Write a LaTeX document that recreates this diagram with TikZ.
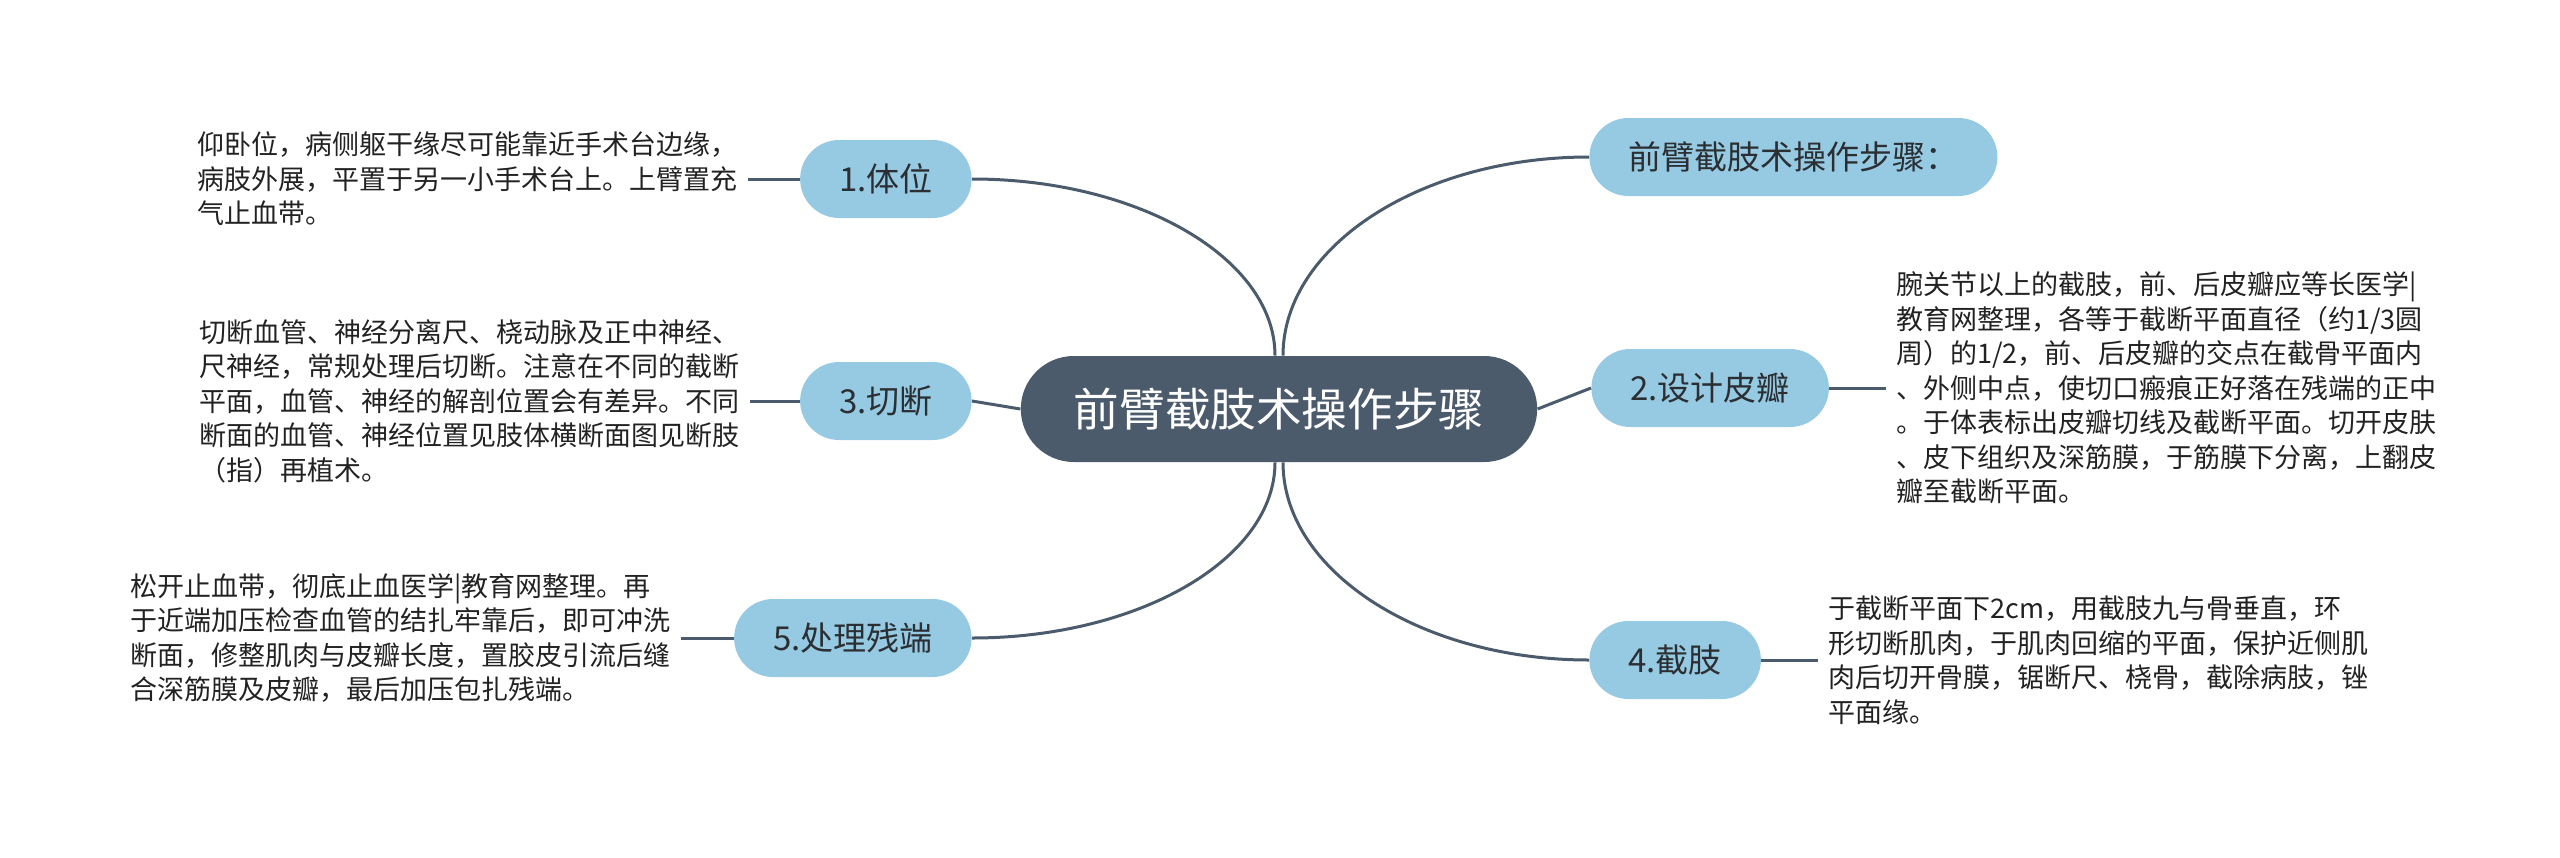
\documentclass[tikz,border=0pt]{standalone}
\usepackage{fontspec}
\setmainfont{Noto Sans CJK SC}
\usepackage{tikz}
\usetikzlibrary{positioning, calc}
\usepackage{xcolor}
\definecolor{rootSlate}{HTML}{4B5B6C}
\definecolor{stepBlue}{HTML}{96CAE2}
\definecolor{stepInk}{HTML}{2B2F33}
\definecolor{noteInk}{HTML}{222222}

\begin{document}
\begin{tikzpicture}[
    x=0.5pt, y=-0.5pt,
    root/.style={rectangle, fill=rootSlate, rounded corners=26.5pt, minimum height=53pt, inner xsep=26.5pt, text=white, font=\fontsize{22.8}{26}\selectfont},
    stepbox/.style={rectangle, fill=stepBlue, rounded corners=19.5pt, minimum height=39pt, inner xsep=19.5pt, text=stepInk, font=\fontsize{16.5}{19}\selectfont},
    note/.style={align=left, inner xsep=5pt, inner ysep=0pt, text=noteInk, font=\fontsize{13.5}{17.25}\selectfont},
    link/.style={draw=rootSlate, line width=1.5pt},
]
    \useasboundingbox (0,0) rectangle (2560,857);

    \node[root] (c) at (1279,409) {前臂截肢术操作步骤};

    \node[stepbox, anchor=west] (t0) at (1589,157) {前臂截肢术操作步骤：};
    \node[stepbox, anchor=west] (n2) at (1591,388) {2.设计皮瓣};
    \node[stepbox, anchor=west] (n4) at (1589,660) {4.截肢};
    \node[stepbox, anchor=east] (n1) at (972,179) {1.体位};
    \node[stepbox, anchor=east] (n3) at (972,401) {3.切断};
    \node[stepbox, anchor=east] (n5) at (972,638) {5.处理残端};

    \node[note, anchor=west] (d1) at (187,179) {仰卧位，病侧躯干缘尽可能靠近手术台边缘，\\病肢外展，平置于另一小手术台上。上臂置充\\气止血带。};
    \node[note, anchor=west] (d3) at (189,401) {切断血管、神经分离尺、桡动脉及正中神经、\\尺神经，常规处理后切断。注意在不同的截断\\平面，血管、神经的解剖位置会有差异。不同\\断面的血管、神经位置见肢体横断面图见断肢\\（指）再植术。};
    \node[note, anchor=west] (d5) at (120,638) {松开止血带，彻底止血医学|教育网整理。再\\于近端加压检查血管的结扎牢靠后，即可冲洗\\断面，修整肌肉与皮瓣长度，置胶皮引流后缝\\合深筋膜及皮瓣，最后加压包扎残端。};
    \node[note, anchor=west] (d2) at (1886,388) {腕关节以上的截肢，前、后皮瓣应等长医学|\\教育网整理，各等于截断平面直径（约1/3圆\\周）的1/2，前、后皮瓣的交点在截骨平面内\\、外侧中点，使切口瘢痕正好落在残端的正中\\。于体表标出皮瓣切线及截断平面。切开皮肤\\、皮下组织及深筋膜，于筋膜下分离，上翻皮\\瓣至截断平面。};
    \node[note, anchor=west] (d4) at (1818,660) {于截断平面下2cm，用截肢九与骨垂直，环\\形切断肌肉，于肌肉回缩的平面，保护近侧肌\\肉后切开骨膜，锯断尺、桡骨，截除病肢，锉\\平面缘。};

    \coordinate (ct1) at ([xshift=-2pt]c.north);
    \coordinate (ct2) at ([xshift=2pt]c.north);
    \coordinate (cb1) at ([xshift=-2pt]c.south);
    \coordinate (cb2) at ([xshift=2pt]c.south);
    \coordinate (k1) at (ct1 |- n1.east);
    \coordinate (k0) at (ct2 |- t0.west);
    \coordinate (k5) at (cb1 |- n5.east);
    \coordinate (k4) at (cb2 |- n4.west);

    \draw[link] (n1.east) .. controls ($(n1.east)!0.55!(k1)$) and ($(ct1)!0.55!(k1)$) .. (ct1);
    \draw[link] (t0.west) .. controls ($(t0.west)!0.55!(k0)$) and ($(ct2)!0.55!(k0)$) .. (ct2);
    \draw[link] (n5.east) .. controls ($(n5.east)!0.55!(k5)$) and ($(cb1)!0.55!(k5)$) .. (cb1);
    \draw[link] (n4.west) .. controls ($(n4.west)!0.55!(k4)$) and ($(cb2)!0.55!(k4)$) .. (cb2);
    \draw[link] (c.west) -- (n3.east);
    \draw[link] (c.east) -- (n2.west);

    \draw[link] (d1.east) -- (n1.west);
    \draw[link] (d3.east) -- (n3.west);
    \draw[link] (d5.east) -- (n5.west);
    \draw[link] (n2.east) -- (d2.west);
    \draw[link] (n4.east) -- (d4.west);
\end{tikzpicture}
\end{document}
